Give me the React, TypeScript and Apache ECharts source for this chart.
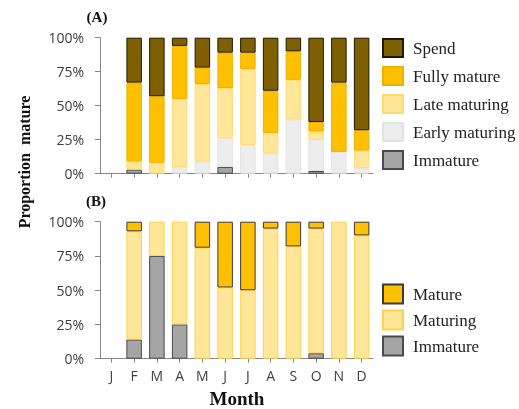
import React, { useEffect, useRef } from "react";
import * as echarts from "echarts";

const months = ["J", "F", "M", "A", "M", "J", "J", "A", "S", "O", "N", "D"];
const yTicks = [0, 25, 50, 75, 100];

// Panel A (% of fish per stage)
const aImmature = [null, 3, 0, 0, 0, 5, 0, 0, 0, 2, 0, 0];
const aEarly = [null, 0, 0, 5, 9, 21, 21, 15, 40, 23, 16, 4];
const aLate = [null, 6, 8, 50, 57, 37, 56, 15, 29, 6, 0, 13];
const aFully = [null, 58, 49, 39, 12, 26, 12, 31, 21, 7, 51, 15];
const aSpend = [null, 33, 43, 6, 22, 11, 11, 39, 10, 62, 33, 68];

// Panel B
const bImmature = [null, 14, 75, 25, 0, 0, 0, 0, 0, 4, 0, 0];
const bMaturing = [null, 79, 25, 75, 81, 52, 50, 95, 82, 91, 100, 90];
const bMature = [null, 7, 0, 0, 19, 48, 50, 5, 18, 5, 0, 10];

const SANS = "Open Sans";
const SERIF = "Liberation Serif";

export default function App() {
  const ref = useRef<HTMLDivElement>(null);
  useEffect(() => {
    if (!ref.current) return;
    const chart = echarts.init(ref.current, null, { renderer: "svg" });
    const axisLineColor = "#868686";
    const yAxisCommon = {
      type: "value",
      min: 0,
      max: 100,
      interval: 25,
      axisLine: { show: true, lineStyle: { color: axisLineColor } },
      axisTick: { show: true, length: 5, lineStyle: { color: axisLineColor } },
      splitLine: { show: false },
      axisLabel: {
        formatter: (v: number) => (yTicks.includes(v) ? v + "%" : ""),
        fontFamily: SANS,
        fontSize: 14,
        color: "#404040",
        margin: 16,
      },
    };
    const xAxisCommon = {
      type: "category",
      data: months,
      boundaryGap: true,
      axisLine: { show: true, lineStyle: { color: axisLineColor } },
      axisTick: { show: true, alignWithLabel: true, length: 4, lineStyle: { color: axisLineColor } },
    };
    const bar = (name: string, data: any[], idx: number, stack: string, color: string, border: string) => ({
      name,
      type: "bar",
      stack,
      data: data.map((v) => (v === 0 ? null : v)),
      xAxisIndex: idx,
      yAxisIndex: idx,
      barWidth: 15.5,
      itemStyle: { color, borderColor: border, borderWidth: 1 },
    });
    const legendText = { fontFamily: SERIF, fontSize: 17, color: "#222", padding: [0, 0, 0, 5], lineHeight: 18 };
    chart.setOption({
      animation: false,
      grid: [
        { left: 100, top: 37.7, width: 273, height: 136 },
        { left: 100, top: 221.7, width: 273, height: 137 },
      ],
      xAxis: [
        { ...xAxisCommon, gridIndex: 0, axisLabel: { show: false } },
        {
          ...xAxisCommon,
          gridIndex: 1,
          axisLabel: { fontFamily: SANS, fontSize: 14, color: "#404040", margin: 10 },
        },
      ],
      yAxis: [
        { ...yAxisCommon, gridIndex: 0 },
        { ...yAxisCommon, gridIndex: 1 },
      ],
      legend: [
        {
          orient: "vertical",
          left: 382,
          top: 38,
          padding: 0,
          icon: "rect",
          itemWidth: 20,
          itemHeight: 18,
          itemGap: 8,
          textStyle: legendText,
          data: ["Spend", "Fully mature", "Late maturing", "Early maturing", "Immature"],
        },
        {
          orient: "vertical",
          left: 382,
          top: 283.5,
          padding: 0,
          icon: "rect",
          itemWidth: 20,
          itemHeight: 19,
          itemGap: 5,
          textStyle: legendText,
          data: ["Mature", "Maturing", "Immature "],
        },
      ],
      series: [
        bar("Immature", aImmature, 0, "a", "#A5A5A5", "#4a4a4a"),
        bar("Early maturing", aEarly, 0, "a", "#EDEDED", "#E2E2E2"),
        bar("Late maturing", aLate, 0, "a", "#FFE699", "#FFDA70"),
        bar("Fully mature", aFully, 0, "a", "#FFC000", "#EFB000"),
        bar("Spend", aSpend, 0, "a", "#7F6000", "#1f1a00"),
        bar("Immature ", bImmature, 1, "b", "#A5A5A5", "#4a4a4a"),
        bar("Maturing", bMaturing, 1, "b", "#FFE699", "#FFD24D"),
        bar("Mature", bMature, 1, "b", "#FFC000", "#3a3a3a"),
      ],
      graphic: [
        {
          type: "text",
          x: 97,
          y: 17,
          style: { text: "(A)", font: `bold 15px '${SERIF}'`, fill: "#111", align: "center", verticalAlign: "middle" },
        },
        {
          type: "text",
          x: 96,
          y: 201,
          style: { text: "(B)", font: `bold 15px '${SERIF}'`, fill: "#111", align: "center", verticalAlign: "middle" },
        },
        {
          type: "text",
          x: 24,
          y: 162,
          rotation: Math.PI / 2,
          style: {
            text: "Proportion  mature",
            font: `bold 16px '${SERIF}'`,
            fill: "#111",
            align: "center",
            verticalAlign: "middle",
          },
        },
        {
          type: "text",
          x: 237,
          y: 398,
          style: { text: "Month", font: `bold 19px '${SERIF}'`, fill: "#111", align: "center", verticalAlign: "middle" },
        },
      ],
    });
    return () => chart.dispose();
  }, []);
  return <div ref={ref} style={{ position: "fixed", left: 0, top: 0, width: 519, height: 409 }} />;
}
